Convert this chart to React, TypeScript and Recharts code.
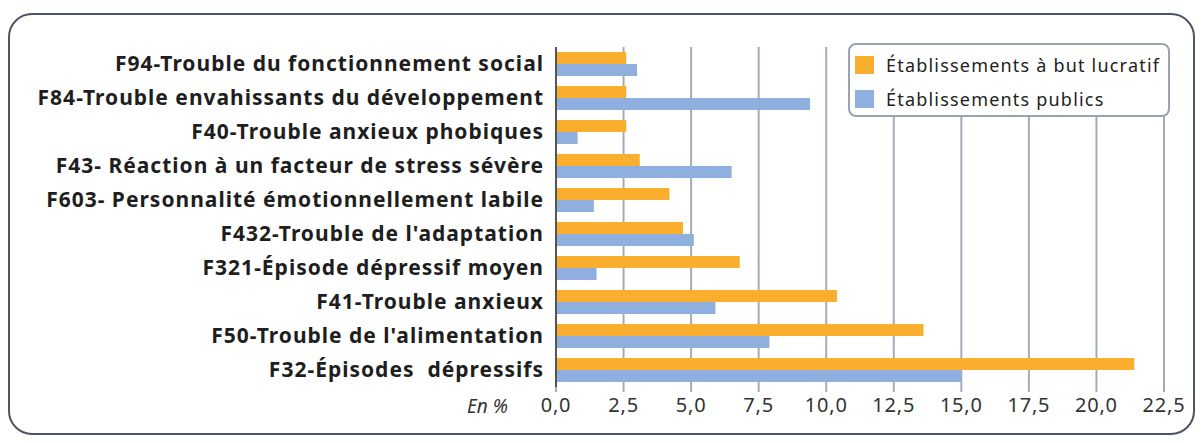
import React from "react";
import { BarChart, Bar, XAxis, YAxis, CartesianGrid } from "recharts";

const categories = [
  "F94-Trouble du fonctionnement social",
  "F84-Trouble envahissants du développement",
  "F40-Trouble anxieux phobiques",
  "F43- Réaction à un facteur de stress sévère",
  "F603- Personnalité émotionnellement labile",
  "F432-Trouble de l'adaptation",
  "F321-Épisode dépressif moyen",
  "F41-Trouble anxieux",
  "F50-Trouble de l'alimentation",
  "F32-Épisodes  dépressifs",
];
const lucratif = [2.6, 2.6, 2.6, 3.1, 4.2, 4.7, 6.8, 10.4, 13.6, 21.4];
const publics = [3.0, 9.4, 0.8, 6.5, 1.4, 5.1, 1.5, 5.9, 7.9, 15.0];
const xTicks = [0, 2.5, 5, 7.5, 10, 12.5, 15, 17.5, 20, 22.5];
const seriesNames = ["Établissements à but lucratif", "Établissements publics"];

const data = categories.map((name, i) => ({
  name,
  lucratif: lucratif[i],
  publics: publics[i],
}));

const ORANGE = "#F9AE2E";
const BLUE = "#8FB0DE";
const GRID = "#a3abbb";
const FONT = "'Noto Sans', sans-serif";

const YTick = (props: any) => {
  const { x, y, payload } = props;
  return (
    <text
      x={x - 4}
      y={y}
      dy={7}
      textAnchor="end"
      fontFamily={FONT}
      fontWeight={700}
      fontSize={21}
      letterSpacing={1}
      fill="#1e1e1e"
    >
      {payload.value.replace(/ {2}/g, "\u00a0 ")}
    </text>
  );
};

const LegendBox = () => (
  <div
    style={{
      position: "absolute",
      left: 838,
      top: 28,
      width: 322,
      height: 74,
      boxSizing: "border-box",
      border: "2px solid #9aa3b2",
      borderRadius: 8,
      background: "#fff",
      padding: "3px 0 0 5px",
      fontFamily: FONT,
      fontSize: 18,
      letterSpacing: 1.2,
      color: "#222",
    }}
  >
    {seriesNames.map((label, i) => (
      <div key={label} style={{ display: "flex", alignItems: "center", height: 34 }}>
        <span
          style={{
            width: 19,
            height: 18,
            background: i === 0 ? ORANGE : BLUE,
            marginRight: 12,
            flexShrink: 0,
          }}
        />
        {label}
      </div>
    ))}
  </div>
);

export default function App() {
  return (
    <div
      style={{
        position: "relative",
        width: 1183,
        height: 418,
        marginTop: 5,
        border: "2px solid #4d5562",
        borderRadius: 24,
        background: "#fff",
      }}
    >
      <BarChart
        width={1183}
        height={418}
        data={data}
        layout="vertical"
        margin={{ top: 32, right: 29, left: 0, bottom: 10 }}
        barSize={12}
        barGap={0}
      >
        <CartesianGrid horizontal={false} vertical stroke={GRID} strokeWidth={2} />
        <XAxis
          type="number"
          domain={[0, 22.5]}
          ticks={xTicks}
          interval={0}
          axisLine={false}
          tickLine={{ stroke: GRID, strokeWidth: 2 }}
          tickSize={5}
          tickMargin={6}
          height={36}
          tick={{ fontFamily: FONT, fontSize: 20, fill: "#333", letterSpacing: 0.8 }}
          tickFormatter={(v: number) => v.toFixed(1).replace(".", ",")}
        />
        <YAxis
          type="category"
          dataKey="name"
          width={546}
          axisLine={{ stroke: "#555", strokeWidth: 2 }}
          tickLine={false}
          tick={<YTick />}
          interval={0}
        />
        <Bar dataKey="lucratif" name={seriesNames[0]} fill={ORANGE} isAnimationActive={false} />
        <Bar dataKey="publics" name={seriesNames[1]} fill={BLUE} isAnimationActive={false} />
      </BarChart>
      <LegendBox />
      <span
        style={{
          position: "absolute",
          left: 457,
          top: 378,
          fontFamily: FONT,
          fontStyle: "italic",
          fontSize: 19,
          color: "#333",
        }}
      >
        En %
      </span>
    </div>
  );
}
